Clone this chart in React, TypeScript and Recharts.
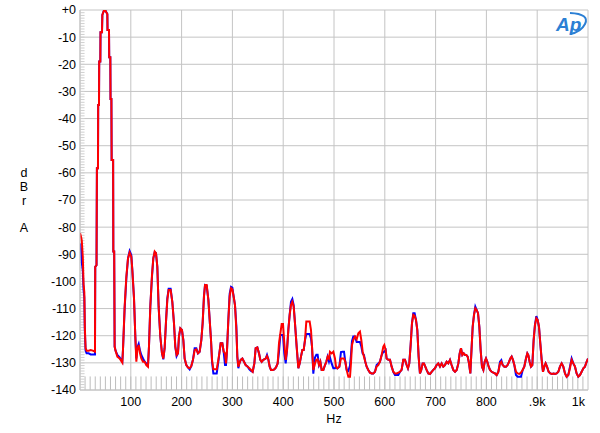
import React from 'react'
import { LineChart, Line, XAxis, YAxis, CartesianGrid, ReferenceLine } from 'recharts'

// frequency points (Hz)
const hz = [
  0, 2, 3.5, 5.5, 7, 8.5, 9.5, 11, 13, 17,
  21, 25, 29.5, 30, 32.5, 33.3, 35.4, 35.8, 37.4, 37.8,
  40, 40.4, 43.3, 44, 46.5, 47.5, 49.5, 51.8, 53.8, 54.2,
  57.1, 57.5, 59.7, 60.1, 61.8, 62.3, 65.2, 65.6, 67.3, 68.2,
  70, 73.5, 78, 83.3, 84.6, 87.9, 91.2, 94.5, 97.7, 101,
  103, 106.3, 108.9, 110.9, 112.8, 115.5, 118.1, 120.7, 124, 127.3,
  130.5, 133.8, 135.8, 138.4, 141.7, 144.3, 147, 149.6, 152.2, 154.8,
  158.1, 161.4, 164, 166.6, 169.3, 171.9, 174.5, 178.4, 181.7, 185,
  187.6, 190.2, 192.9, 194.8, 197.5, 200.7, 203.4, 206, 209.3, 212.5,
  215.8, 219.1, 222.4, 225.7, 229, 232.2, 235.5, 238.8, 241.4, 244,
  246.1, 249.4, 252.7, 255.9, 257.9, 259.9, 262.5, 269.1, 272.3, 274.3,
  276.9, 280.2, 282.8, 285.5, 287.4, 289.4, 292, 294.6, 297.3, 299.9,
  302.5, 305.1, 307.8, 309.7, 311.7, 313.7, 316.3, 319.6, 322.9, 326.1,
  330.1, 333.4, 336.6, 339.9, 343.2, 345.8, 349.1, 352.4, 355, 357.6,
  360.9, 365.5, 368.1, 370.7, 373.4, 376, 379.3, 382.5, 385.8, 389.1,
  391.7, 394.4, 397, 399.6, 402.2, 404.9, 407.5, 410.1, 412.7, 415.3,
  418, 420.6, 423.2, 426.5, 429.8, 432.4, 435, 437.7, 440.3, 442.9,
  445.5, 448.1, 452.1, 454.7, 456.7, 459.3, 462.6, 465.2, 467.8, 470.5,
  473.1, 475.7, 479, 482.3, 484.9, 487.5, 490.1, 492.1, 495.4, 498.7,
  501.9, 503.9, 506.5, 510.5, 513.7, 517, 519.7, 522.3, 524.9, 528.2,
  531.5, 533.4, 535.4, 538, 541.3, 544.6, 547.9, 551.1, 553.8, 556.4,
  559, 561.6, 564.3, 567.5, 570.8, 574.1, 577.4, 580.7, 583.9, 587.2,
  590.5, 593.8, 597.1, 599, 601.7, 603.6, 606.9, 610.2, 613.5, 616.7,
  620, 623.3, 626.6, 629.9, 633.1, 636.4, 639.7, 643, 645.6, 648.2,
  650.9, 653.5, 656.1, 658.7, 661.4, 664, 666.6, 669.2, 671.8, 674.5,
  677.1, 679.7, 682.3, 685.6, 688.9, 692.2, 695.5, 698.7, 702, 705.3,
  708.6, 711.9, 715.1, 718.4, 721.7, 725, 728.3, 731.5, 734.8, 738.2,
  741.5, 744.8, 747.4, 750, 752.6, 755.3, 757.9, 760.5, 763.1, 765.8,
  768.4, 771, 773, 775.6, 778.2, 780.8, 783.5, 786.1, 788.7, 791.3,
  794, 796.6, 799.2, 801.8, 804.5, 807.1, 810.4, 813.6, 816.9, 820.2,
  823.5, 826.8, 829.4, 832, 835.3, 838.6, 841.8, 844.5, 847.1, 849.7,
  852.3, 855, 858.2, 861.5, 864.8, 868.1, 871.4, 874.6, 877.9, 880.6,
  882.5, 885.1, 887.8, 890.4, 893, 895.6, 898.3, 900.9, 903.5, 906.1,
  908.8, 911.4, 914, 916.6, 919.3, 922.5, 925.8, 929.1, 932.4, 935,
  938.3, 941.6, 944.8, 948.1, 951.4, 954.7, 958, 961.2, 964.5, 967.8,
  971.1, 974.4, 977.6, 980.9, 984.2, 987.5, 990.8, 994, 997.3, 1000,
]

// red trace, dBr A
const red = [
  -82.2, -83.5, -85.0, -91.0, -101.0, -104.0, -116.7, -124.6, -125.5, -125.5,
  -125.3, -125.5, -125.9, -94.6, -94.0, -58.3, -58.3, -35.0, -35.0, -19.0,
  -19.0, -8.2, -8.2, -1.8, -0.5, 0, 0, -0.8, -1.5, -7.4,
  -7.4, -17.4, -17.4, -32.8, -32.8, -55.3, -55.3, -89.0, -89.0, -124.0,
  -125.5, -127.7, -128.4, -129.9, -125.3, -109.3, -98.3, -91.5, -89.4, -90.9,
  -95.8, -106.2, -120.3, -129.6, -125.3, -123.4, -126.5, -128.4, -129.6, -129.6,
  -130.8, -131.4, -124.0, -109.3, -97.7, -91.5, -89.0, -89.6, -94.6, -109.3,
  -120.3, -126.5, -128.4, -124.6, -114.8, -106.8, -103.2, -103.2, -107.5, -115.4,
  -124.0, -127.1, -126.5, -120.3, -117.3, -117.9, -121.6, -128.4, -130.8, -131.7,
  -132.0, -131.2, -128.9, -125.3, -125.0, -126.5, -125.9, -121.6, -115.4, -105.6,
  -101.3, -101.3, -106.8, -116.0, -121.6, -128.9, -132.4, -132.4, -128.9, -126.5,
  -122.8, -122.8, -125.9, -126.5, -130.2, -125.3, -114.2, -105.6, -102.5, -102.9,
  -105.6, -108.7, -117.9, -127.7, -131.4, -130.2, -128.9, -128.4, -129.6, -130.8,
  -131.4, -132.0, -132.6, -133.3, -130.2, -124.6, -124.3, -126.5, -128.9, -129.6,
  -128.9, -128.4, -127.5, -128.7, -131.4, -132.6, -132.6, -132.4, -131.7, -130.2,
  -122.8, -119.1, -115.7, -115.7, -122.8, -128.9, -125.3, -117.9, -112.3, -108.7,
  -107.5, -109.3, -115.4, -124.0, -132.0, -130.2, -127.7, -125.3, -125.3, -121.6,
  -114.8, -114.8, -114.8, -117.9, -124.0, -132.6, -130.2, -128.9, -128.7, -130.8,
  -129.6, -132.6, -132.6, -130.8, -129.6, -127.7, -128.4, -125.9, -126.5, -125.9,
  -128.4, -131.4, -132.0, -131.4, -128.4, -128.4, -128.4, -129.6, -132.6, -135.1,
  -135.1, -130.2, -123.4, -121.6, -120.3, -121.3, -119.1, -118.5, -121.6, -125.9,
  -127.7, -129.6, -131.4, -132.6, -133.6, -133.9, -133.9, -133.3, -131.4, -130.8,
  -129.6, -127.1, -124.0, -123.4, -125.3, -128.4, -128.9, -128.9, -131.4, -133.3,
  -133.9, -133.9, -133.6, -133.3, -132.6, -128.9, -128.9, -130.8, -132.0, -130.2,
  -123.4, -115.4, -112.3, -112.7, -114.2, -117.9, -127.7, -133.9, -132.6, -130.2,
  -130.2, -131.4, -132.6, -133.9, -134.1, -133.3, -132.6, -132.0, -130.8, -130.2,
  -131.4, -130.2, -131.4, -130.8, -129.6, -130.2, -128.9, -130.8, -132.6, -133.3,
  -132.6, -130.2, -126.5, -124.6, -127.1, -126.5, -127.1, -127.1, -127.7, -130.2,
  -133.9, -124.0, -116.7, -112.3, -109.9, -110.5, -111.7, -116.7, -125.3, -131.4,
  -132.6, -129.6, -128.4, -129.6, -131.4, -132.6, -133.3, -133.6, -133.9, -134.5,
  -133.3, -130.2, -129.6, -130.8, -131.4, -131.4, -130.8, -129.6, -128.4, -127.7,
  -128.9, -130.8, -133.3, -133.9, -134.1, -133.6, -132.6, -131.4, -128.4, -126.5,
  -127.1, -129.6, -131.4, -130.8, -121.6, -116.0, -113.6, -114.2, -116.7, -122.8,
  -128.9, -133.3, -131.4, -130.2, -131.4, -133.3, -133.9, -134.1, -133.9, -134.1,
  -133.9, -133.3, -131.4, -130.2, -131.4, -133.9, -135.1, -134.5, -132.0, -128.9,
  -130.2, -131.4, -133.9, -135.1, -134.5, -133.3, -132.0, -131.4, -129.6, -128.4,
]

// blue trace, dBr A
const blue = [
  -86.0, -88.0, -93.0, -96.0, -103.0, -106.0, -118.0, -125.5, -126.5, -126.5,
  -126.9, -126.9, -126.9, -94.6, -94.0, -58.3, -58.3, -35.0, -35.0, -19.0,
  -19.0, -8.2, -8.2, -1.8, -0.5, 0, 0, -0.8, -1.5, -7.4,
  -7.4, -17.4, -17.4, -32.8, -32.8, -55.3, -55.3, -89.0, -89.0, -124.0,
  -125.5, -127.1, -128.0, -129.6, -125.3, -110.0, -99.0, -91.5, -88.8, -90.3,
  -95.8, -106.2, -120.3, -128.4, -124.3, -123.0, -125.5, -127.1, -128.4, -129.6,
  -130.2, -131.0, -124.0, -109.3, -98.3, -91.5, -89.3, -89.6, -94.6, -109.3,
  -120.3, -126.5, -128.7, -124.6, -114.8, -106.2, -102.7, -102.7, -107.5, -115.4,
  -124.0, -127.5, -126.5, -120.3, -117.3, -117.9, -121.6, -128.4, -130.8, -131.7,
  -132.4, -131.2, -128.9, -124.6, -124.6, -126.5, -125.9, -121.6, -115.4, -105.6,
  -101.3, -101.6, -106.8, -116.0, -121.6, -129.6, -133.9, -133.9, -129.6, -126.5,
  -122.8, -122.8, -125.9, -130.8, -130.8, -125.3, -114.2, -104.6, -102.0, -102.3,
  -105.6, -108.7, -116.5, -127.7, -132.0, -130.2, -128.9, -128.4, -129.6, -130.8,
  -131.4, -132.4, -133.0, -133.3, -130.2, -124.6, -124.3, -126.5, -128.9, -129.6,
  -128.9, -128.4, -127.1, -128.7, -131.4, -132.6, -132.6, -132.4, -131.7, -130.2,
  -126.0, -119.7, -119.7, -119.7, -126.5, -130.2, -125.3, -117.9, -112.3, -107.5,
  -106.5, -108.7, -115.4, -124.0, -132.0, -130.2, -127.7, -125.3, -125.3, -121.6,
  -119.4, -119.4, -119.4, -121.0, -124.0, -134.0, -128.0, -127.0, -127.0, -130.8,
  -129.6, -132.6, -132.6, -130.8, -129.6, -127.7, -129.5, -128.0, -130.2, -132.0,
  -132.0, -131.4, -132.0, -131.4, -126.0, -125.9, -125.9, -129.6, -132.6, -133.0,
  -131.0, -127.0, -122.0, -120.3, -120.3, -122.3, -122.3, -122.3, -124.0, -126.6,
  -127.1, -129.6, -131.4, -132.6, -133.6, -133.9, -133.9, -133.3, -130.8, -130.2,
  -129.6, -127.1, -125.9, -125.9, -125.3, -128.4, -128.9, -128.9, -131.4, -133.3,
  -134.5, -134.5, -134.5, -133.3, -132.6, -128.9, -128.9, -130.8, -132.0, -130.2,
  -123.4, -115.4, -111.7, -111.7, -114.2, -117.9, -127.7, -133.9, -132.6, -130.2,
  -130.2, -131.4, -132.6, -133.9, -134.1, -133.3, -132.6, -132.0, -130.8, -130.2,
  -131.4, -130.2, -131.4, -130.8, -129.6, -130.2, -128.9, -130.8, -132.6, -133.3,
  -132.6, -130.2, -126.5, -124.6, -127.1, -126.5, -127.1, -127.1, -127.7, -130.2,
  -133.9, -124.0, -116.7, -112.3, -109.3, -110.5, -111.7, -116.7, -125.3, -131.4,
  -132.6, -129.6, -128.4, -129.6, -131.4, -132.6, -133.3, -133.6, -133.9, -134.5,
  -133.3, -129.6, -129.0, -130.8, -131.4, -131.4, -130.8, -129.6, -128.4, -127.7,
  -128.9, -130.8, -134.5, -135.1, -135.1, -135.1, -132.6, -131.4, -128.4, -126.5,
  -127.1, -129.6, -131.4, -130.8, -121.6, -116.0, -112.8, -114.2, -116.7, -122.8,
  -128.9, -133.3, -131.4, -130.2, -131.4, -133.3, -133.9, -134.1, -133.9, -134.1,
  -133.9, -133.3, -131.4, -130.2, -131.4, -133.9, -135.1, -134.5, -131.4, -128.4,
  -130.2, -131.4, -133.9, -135.1, -134.5, -133.3, -132.0, -131.4, -129.6, -128.4,
]

const xTicks = [0, 100, 200, 300, 400, 500, 600, 700, 800, 900, 1000]
const xTickLabels = ['', '100', '200', '300', '400', '500', '600', '700', '800', '.9k', '1k']
const yTicks = [0, -10, -20, -30, -40, -50, -60, -70, -80, -90, -100, -110, -120, -130, -140]
const yUnit = ['d', 'B', 'r', '', 'A']

// minor tick marks: every 10 Hz along the bottom, every 1 dB along the left
const minorX = Array.from({ length: 99 }, (_, i) => (i + 1) * 10)
const minorY = Array.from({ length: 139 }, (_, i) => -(i + 1))

const rows = hz.map((h, i) => ({ hz: h, red: red[i], blue: blue[i] }))

const FONT = '"Liberation Sans", Arial, sans-serif'

function XTick({ x, y, payload, index }: any) {
  const label = xTickLabels[xTicks.indexOf(payload.value)] ?? ''
  const last = index === xTicks.length - 1
  return (
    <text x={last ? x + 1 : x} y={y} dy="0.71em" textAnchor={last ? 'end' : 'middle'}
      fontSize={12.5} fontFamily={FONT} fill="#000">{label}</text>
  )
}

function YUnitLabel({ viewBox }: any) {
  const cy = viewBox.y + viewBox.height / 2
  const step = 13.75
  const top = cy - ((yUnit.length - 1) / 2) * step
  return (
    <text textAnchor="middle" fontSize={12.5} fontFamily={FONT} fill="#000">
      {yUnit.map((s, i) => (
        <tspan key={i} x={viewBox.x + 24} y={top + i * step} dy="0.36em">{s}</tspan>
      ))}
    </text>
  )
}

function XUnitLabel({ viewBox }: any) {
  return (
    <text x={viewBox.x + viewBox.width / 2} y={viewBox.y + 33} textAnchor="middle"
      fontSize={12.5} fontFamily={FONT} fill="#000">Hz</text>
  )
}

function ApLogo() {
  return (
    <svg width={60} height={40} style={{ position: 'absolute', left: 540, top: 4 }}>
      <text x={16} y={27} fontSize={19} fontStyle="italic" fontWeight="bold"
        fontFamily={FONT} fill="#2b7fd4">Ap</text>
      <path d="M30 9 Q50 10 45 20 Q41 28 30 30" fill="none" stroke="#2b7fd4" strokeWidth={2} />
    </svg>
  )
}

export default function App() {
  return (
    <div style={{ position: 'absolute', left: 0, top: 0, width: 600, height: 433, background: '#fff' }}>
      <LineChart width={600} height={433} data={rows}
        margin={{ top: 10, right: 12, left: 0, bottom: 0 }}>
        <CartesianGrid stroke="#c4c4c4" strokeWidth={1} />
        <XAxis dataKey="hz" type="number" domain={[0, 1000]} ticks={xTicks}
          height={43} tickLine={false} tickSize={0} tickMargin={7}
          axisLine={{ stroke: '#c4c4c4' }}
          tick={<XTick />}
          label={{ content: XUnitLabel }} allowDataOverflow />
        <YAxis type="number" domain={[-140, 0]} ticks={yTicks} width={80}
          tickFormatter={(v: number) => (v === 0 ? '+0' : String(v))}
          tickLine={false} tickSize={0} tickMargin={4}
          axisLine={{ stroke: '#c4c4c4' }}
          tick={{ fontSize: 12.5, fontFamily: FONT, fill: '#000' }}
          label={{ content: YUnitLabel }} allowDataOverflow />
        {minorX.map(v => (
          <ReferenceLine key={'mx' + v} segment={[{ x: v, y: -140 }, { x: v, y: -135 }]}
            stroke="#bdbdbd" strokeWidth={1} />
        ))}
        {minorY.map(v => (
          <ReferenceLine key={'my' + v} segment={[{ x: 0, y: v }, { x: 9, y: v }]}
            stroke="#cfcfcf" strokeWidth={1} />
        ))}
        <Line dataKey="blue" stroke="#0000ff" strokeWidth={2} dot={false}
          type="linear" isAnimationActive={false} />
        <Line dataKey="red" stroke="#ff0000" strokeWidth={2} dot={false}
          type="linear" isAnimationActive={false} />
      </LineChart>
      <ApLogo />
    </div>
  )
}
